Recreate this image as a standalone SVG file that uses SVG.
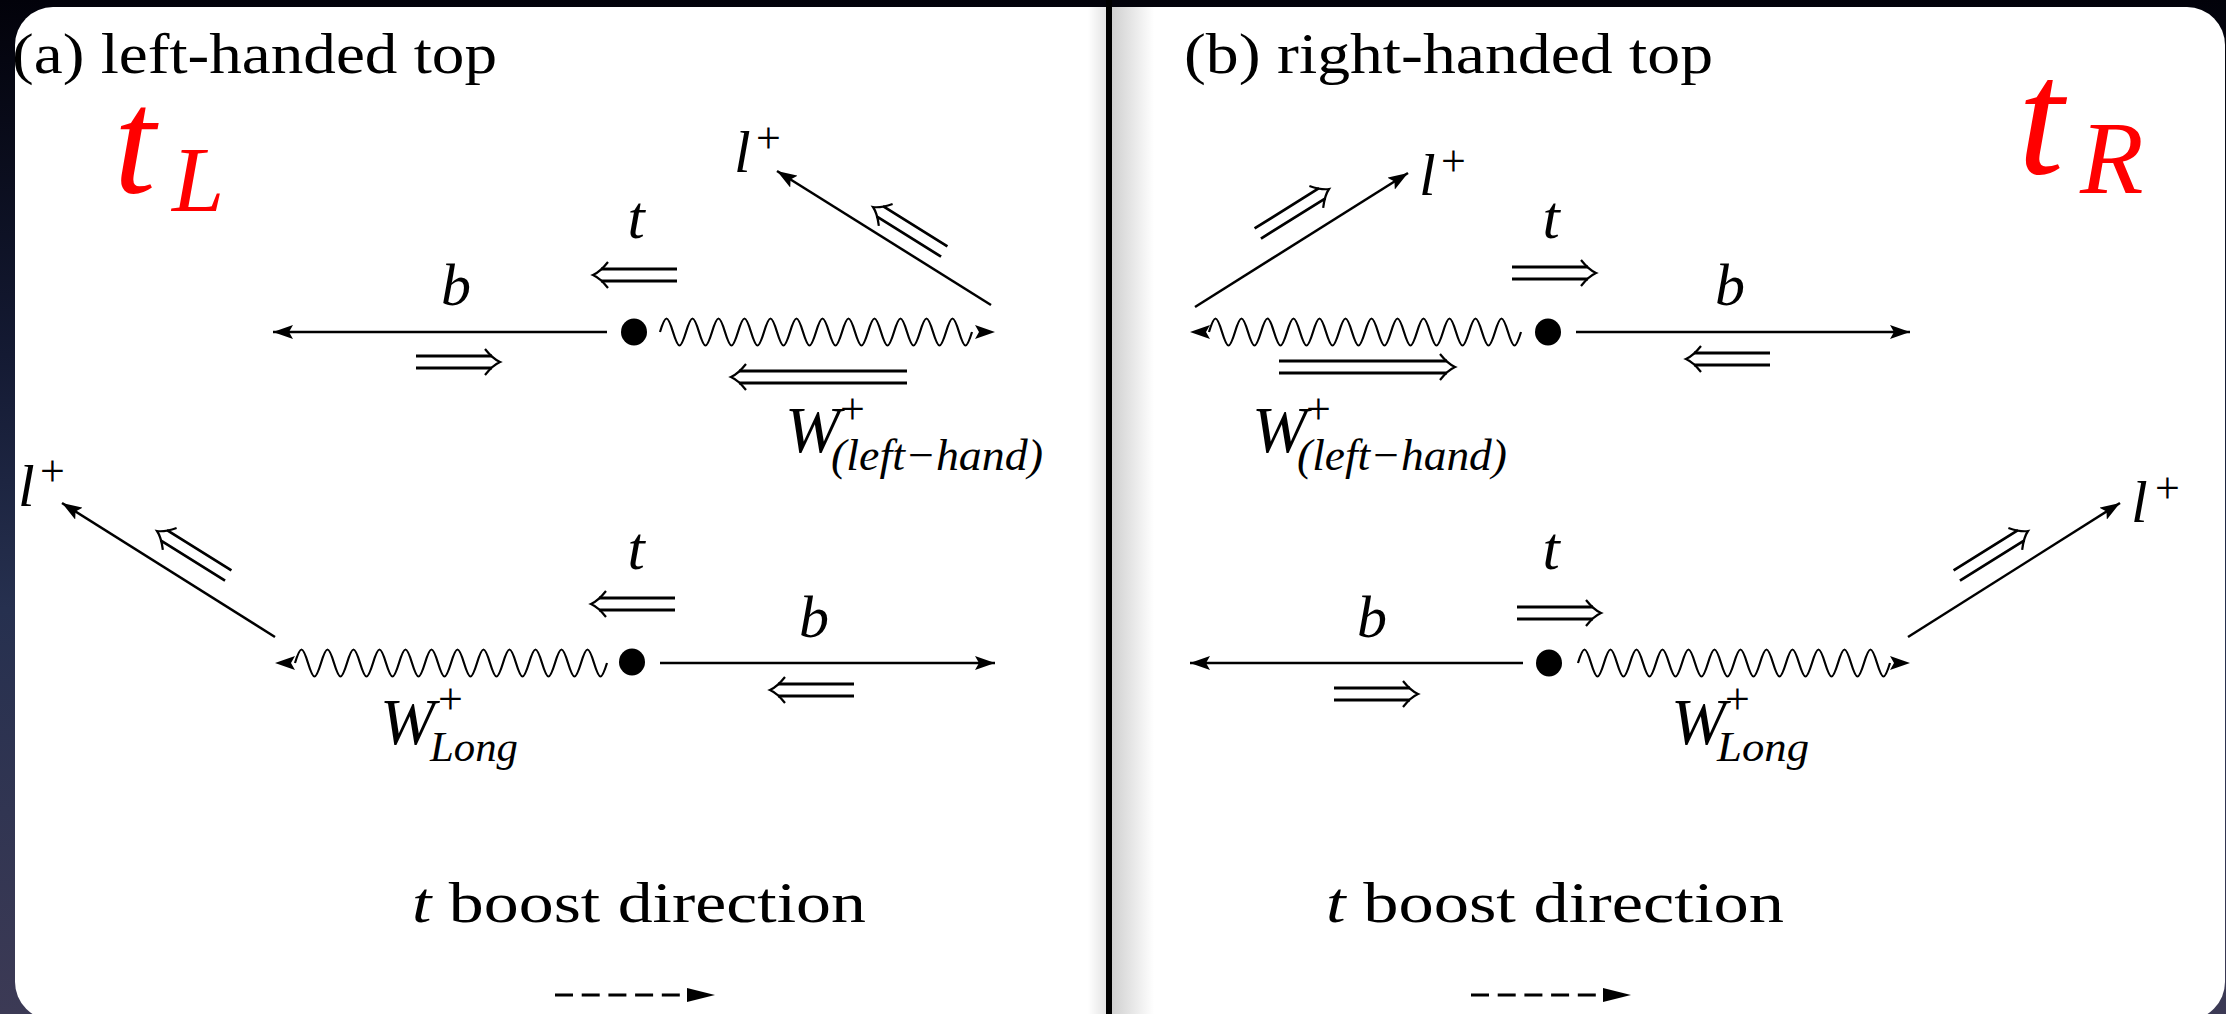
<svg xmlns="http://www.w3.org/2000/svg" xmlns:xlink="http://www.w3.org/1999/xlink" width="2226" height="1014" viewBox="0 0 2226 1014">
<style>
.ln{stroke:#000;stroke-width:2.5;fill:none}
.wv{stroke:#000;stroke-width:2.2;fill:none}
.ah{fill:#000}
.dbl{stroke:#000;stroke-width:2.8;fill:none;stroke-linecap:butt}
.hd{stroke:#000;stroke-width:2.2;fill:none}
.rm{font-family:"Liberation Serif","DejaVu Serif",serif;fill:#000;font-style:normal}
.it{font-family:"Liberation Serif","DejaVu Serif",serif;font-style:italic;fill:#000}
.red{font-family:"Liberation Serif","DejaVu Serif",serif;font-style:italic;fill:#ff0000}
.dash{stroke:#000;stroke-width:3;fill:none;stroke-dasharray:18 8.7}
</style>
<defs>
<linearGradient id="bg" x1="0" y1="0" x2="0" y2="1">
<stop offset="0" stop-color="#02020a"/>
<stop offset="0.35" stop-color="#141a33"/>
<stop offset="0.6" stop-color="#26304f"/>
<stop offset="1" stop-color="#3c3a55"/>
</linearGradient>
<linearGradient id="shR" x1="0" y1="0" x2="1" y2="0">
<stop offset="0" stop-color="#d0d0d0"/>
<stop offset="1" stop-color="#ffffff"/>
</linearGradient>
<linearGradient id="shL" x1="0" y1="0" x2="1" y2="0">
<stop offset="0" stop-color="#ffffff"/>
<stop offset="1" stop-color="#e4e4e4"/>
</linearGradient>
<marker id="arr" viewBox="0 0 20 14" refX="20" refY="7" markerWidth="20" markerHeight="14" markerUnits="userSpaceOnUse" orient="auto">
<path d="M0,0 L20,7 L0,14 L4,7 Z" fill="#000"/>
</marker>
<path id="wave" class="wv" d="M0,0 c5.52,-18 7.48,-18 13,0 s7.48,18 13,0 s7.48,-18 13,0 s7.48,18 13,0 s7.48,-18 13,0 s7.48,18 13,0 s7.48,-18 13,0 s7.48,18 13,0 s7.48,-18 13,0 s7.48,18 13,0 s7.48,-18 13,0 s7.48,18 13,0 s7.48,-18 13,0 s7.48,18 13,0 s7.48,-18 13,0 s7.48,18 13,0 s7.48,-18 13,0 s7.48,18 13,0 s7.48,-18 13,0 s7.48,18 13,0 s7.48,-18 13,0 s7.48,18 13,0 s7.48,-18 13,0 s7.48,18 13,0"/>
<g id="hs">
<path class="dbl" d="M-84,-6 H-8 M-84,6 H-8"/>
<path class="hd" d="M-15,-13 Q-7,-3 0,0 Q-7,3 -15,13"/>
</g>
<g id="hl">
<path class="dbl" d="M-176,-6 H-8 M-176,6 H-8"/>
<path class="hd" d="M-15,-13 Q-7,-3 0,0 Q-7,3 -15,13"/>
</g>
</defs>

<g id="background">
<rect x="0" y="0" width="2226" height="1014" fill="url(#bg)"/>
<rect x="15" y="7" width="2210" height="1013" rx="38" ry="38" fill="#ffffff"/>
<rect x="1088" y="7" width="18" height="1007" fill="url(#shL)"/>
<rect x="1112" y="7" width="42" height="1007" fill="url(#shR)"/>
<rect x="1106" y="0" width="6" height="1014" fill="#000"/>
</g>

<g id="titles">
<text class="rm" x="12" y="73" font-size="56" textLength="485" lengthAdjust="spacingAndGlyphs">(a) left-handed top</text>
<text class="rm" x="1184" y="73" font-size="56" textLength="529" lengthAdjust="spacingAndGlyphs">(b) right-handed top</text>
<text class="red"><tspan x="114" y="193" font-size="150">t</tspan><tspan x="172" y="211" font-size="94">L</tspan></text>
<text class="red"><tspan x="2018" y="173" font-size="165">t</tspan><tspan x="2080" y="193" font-size="104">R</tspan></text>
<text class="rm" x="412" y="922" font-size="58" textLength="454" lengthAdjust="spacingAndGlyphs"><tspan class="it">t</tspan> boost direction</text>
<text class="rm" x="1326" y="922" font-size="58" textLength="458" lengthAdjust="spacingAndGlyphs"><tspan class="it">t</tspan> boost direction</text>
</g>

<g id="connectors">
<line class="ln" x1="607" y1="332" x2="273" y2="332" marker-end="url(#arr)"/>
<use xlink:href="#wave" href="#wave" transform="translate(660,332)"/>
<polygon class="ah" points="995,332 975,325 979,332 975,339"/>
<line class="ln" x1="991" y1="305" x2="777" y2="171" marker-end="url(#arr)"/>
<use xlink:href="#wave" href="#wave" transform="translate(295,663)"/>
<polygon class="ah" points="275,663 295,656 291,663 295,670"/>
<line class="ln" x1="660" y1="663" x2="995" y2="663" marker-end="url(#arr)"/>
<line class="ln" x1="275" y1="637" x2="62" y2="503" marker-end="url(#arr)"/>
<use xlink:href="#wave" href="#wave" transform="translate(1209,332)"/>
<polygon class="ah" points="1190,332 1210,325 1206,332 1210,339"/>
<line class="ln" x1="1576" y1="332" x2="1910" y2="332" marker-end="url(#arr)"/>
<line class="ln" x1="1195" y1="307" x2="1408" y2="173" marker-end="url(#arr)"/>
<line class="ln" x1="1523" y1="663" x2="1190" y2="663" marker-end="url(#arr)"/>
<use xlink:href="#wave" href="#wave" transform="translate(1578,663)"/>
<polygon class="ah" points="1910,663 1890,656 1894,663 1890,670"/>
<line class="ln" x1="1908" y1="637" x2="2120" y2="503" marker-end="url(#arr)"/>
<line class="dash" x1="555" y1="995" x2="690" y2="995"/>
<polygon class="ah" points="715,995 687,988 687,1002"/>
<line class="dash" x1="1471" y1="995" x2="1606" y2="995"/>
<polygon class="ah" points="1631,995 1603,988 1603,1002"/>
</g>

<g id="helicity">
<use xlink:href="#hs" href="#hs" transform="translate(593,275) rotate(180)"/>
<use xlink:href="#hs" href="#hs" transform="translate(500,362)"/>
<use xlink:href="#hl" href="#hl" transform="translate(731,377) rotate(180)"/>
<use xlink:href="#hs" href="#hs" transform="translate(873,207) rotate(212)"/>
<use xlink:href="#hs" href="#hs" transform="translate(591,604) rotate(180)"/>
<use xlink:href="#hs" href="#hs" transform="translate(770,690) rotate(180)"/>
<use xlink:href="#hs" href="#hs" transform="translate(157,531) rotate(212)"/>
<use xlink:href="#hs" href="#hs" transform="translate(1596,273)"/>
<use xlink:href="#hs" href="#hs" transform="translate(1686,359) rotate(180)"/>
<use xlink:href="#hl" href="#hl" transform="translate(1455,367)"/>
<use xlink:href="#hs" href="#hs" transform="translate(1329,189) rotate(-32)"/>
<use xlink:href="#hs" href="#hs" transform="translate(1601,613)"/>
<use xlink:href="#hs" href="#hs" transform="translate(1418,694)"/>
<use xlink:href="#hs" href="#hs" transform="translate(2028,531) rotate(-32)"/>
</g>

<g id="vertex-a-top"><ellipse cx="634" cy="332" rx="13" ry="13.5" fill="#000"/></g>
<g id="vertex-a-bottom"><ellipse cx="632" cy="662" rx="13" ry="13.5" fill="#000"/></g>
<g id="vertex-b-top"><ellipse cx="1548" cy="332" rx="13" ry="13.5" fill="#000"/></g>
<g id="vertex-b-bottom"><ellipse cx="1549" cy="663" rx="13" ry="13.5" fill="#000"/></g>

<g id="labels-a-top">
<text class="it"><tspan x="734" y="172" font-size="60">l</tspan><tspan class="rm" x="756" y="153" font-size="44">+</tspan></text>
<text class="it" x="636" y="238" font-size="62" text-anchor="middle">t</text>
<text class="it" x="456" y="305" font-size="60" text-anchor="middle">b</text>
<text class="it"><tspan x="785" y="452" font-size="66">W</tspan><tspan class="rm" x="840" y="424" font-size="44">+</tspan><tspan x="831" y="470" font-size="44" textLength="212" lengthAdjust="spacingAndGlyphs">(left−hand)</tspan></text>
</g>
<g id="labels-a-bottom">
<text class="it"><tspan x="18" y="506" font-size="60">l</tspan><tspan class="rm" x="40" y="486" font-size="44">+</tspan></text>
<text class="it" x="636" y="569" font-size="62" text-anchor="middle">t</text>
<text class="it" x="814" y="637" font-size="60" text-anchor="middle">b</text>
<text class="it"><tspan x="380" y="744" font-size="66">W</tspan><tspan class="rm" x="438" y="714" font-size="44">+</tspan><tspan x="430" y="761" font-size="42" textLength="88" lengthAdjust="spacingAndGlyphs">Long</tspan></text>
</g>
<g id="labels-b-top">
<text class="it"><tspan x="1419" y="195" font-size="60">l</tspan><tspan class="rm" x="1441" y="176" font-size="44">+</tspan></text>
<text class="it" x="1551" y="238" font-size="62" text-anchor="middle">t</text>
<text class="it" x="1730" y="305" font-size="60" text-anchor="middle">b</text>
<text class="it"><tspan x="1252" y="452" font-size="66">W</tspan><tspan class="rm" x="1306" y="424" font-size="44">+</tspan><tspan x="1297" y="470" font-size="44" textLength="210" lengthAdjust="spacingAndGlyphs">(left−hand)</tspan></text>
</g>
<g id="labels-b-bottom">
<text class="it"><tspan x="2131" y="522" font-size="60">l</tspan><tspan class="rm" x="2155" y="503" font-size="44">+</tspan></text>
<text class="it" x="1551" y="569" font-size="62" text-anchor="middle">t</text>
<text class="it" x="1372" y="637" font-size="60" text-anchor="middle">b</text>
<text class="it"><tspan x="1671" y="744" font-size="66">W</tspan><tspan class="rm" x="1725" y="714" font-size="44">+</tspan><tspan x="1717" y="761" font-size="42" textLength="92" lengthAdjust="spacingAndGlyphs">Long</tspan></text>
</g>
</svg>
